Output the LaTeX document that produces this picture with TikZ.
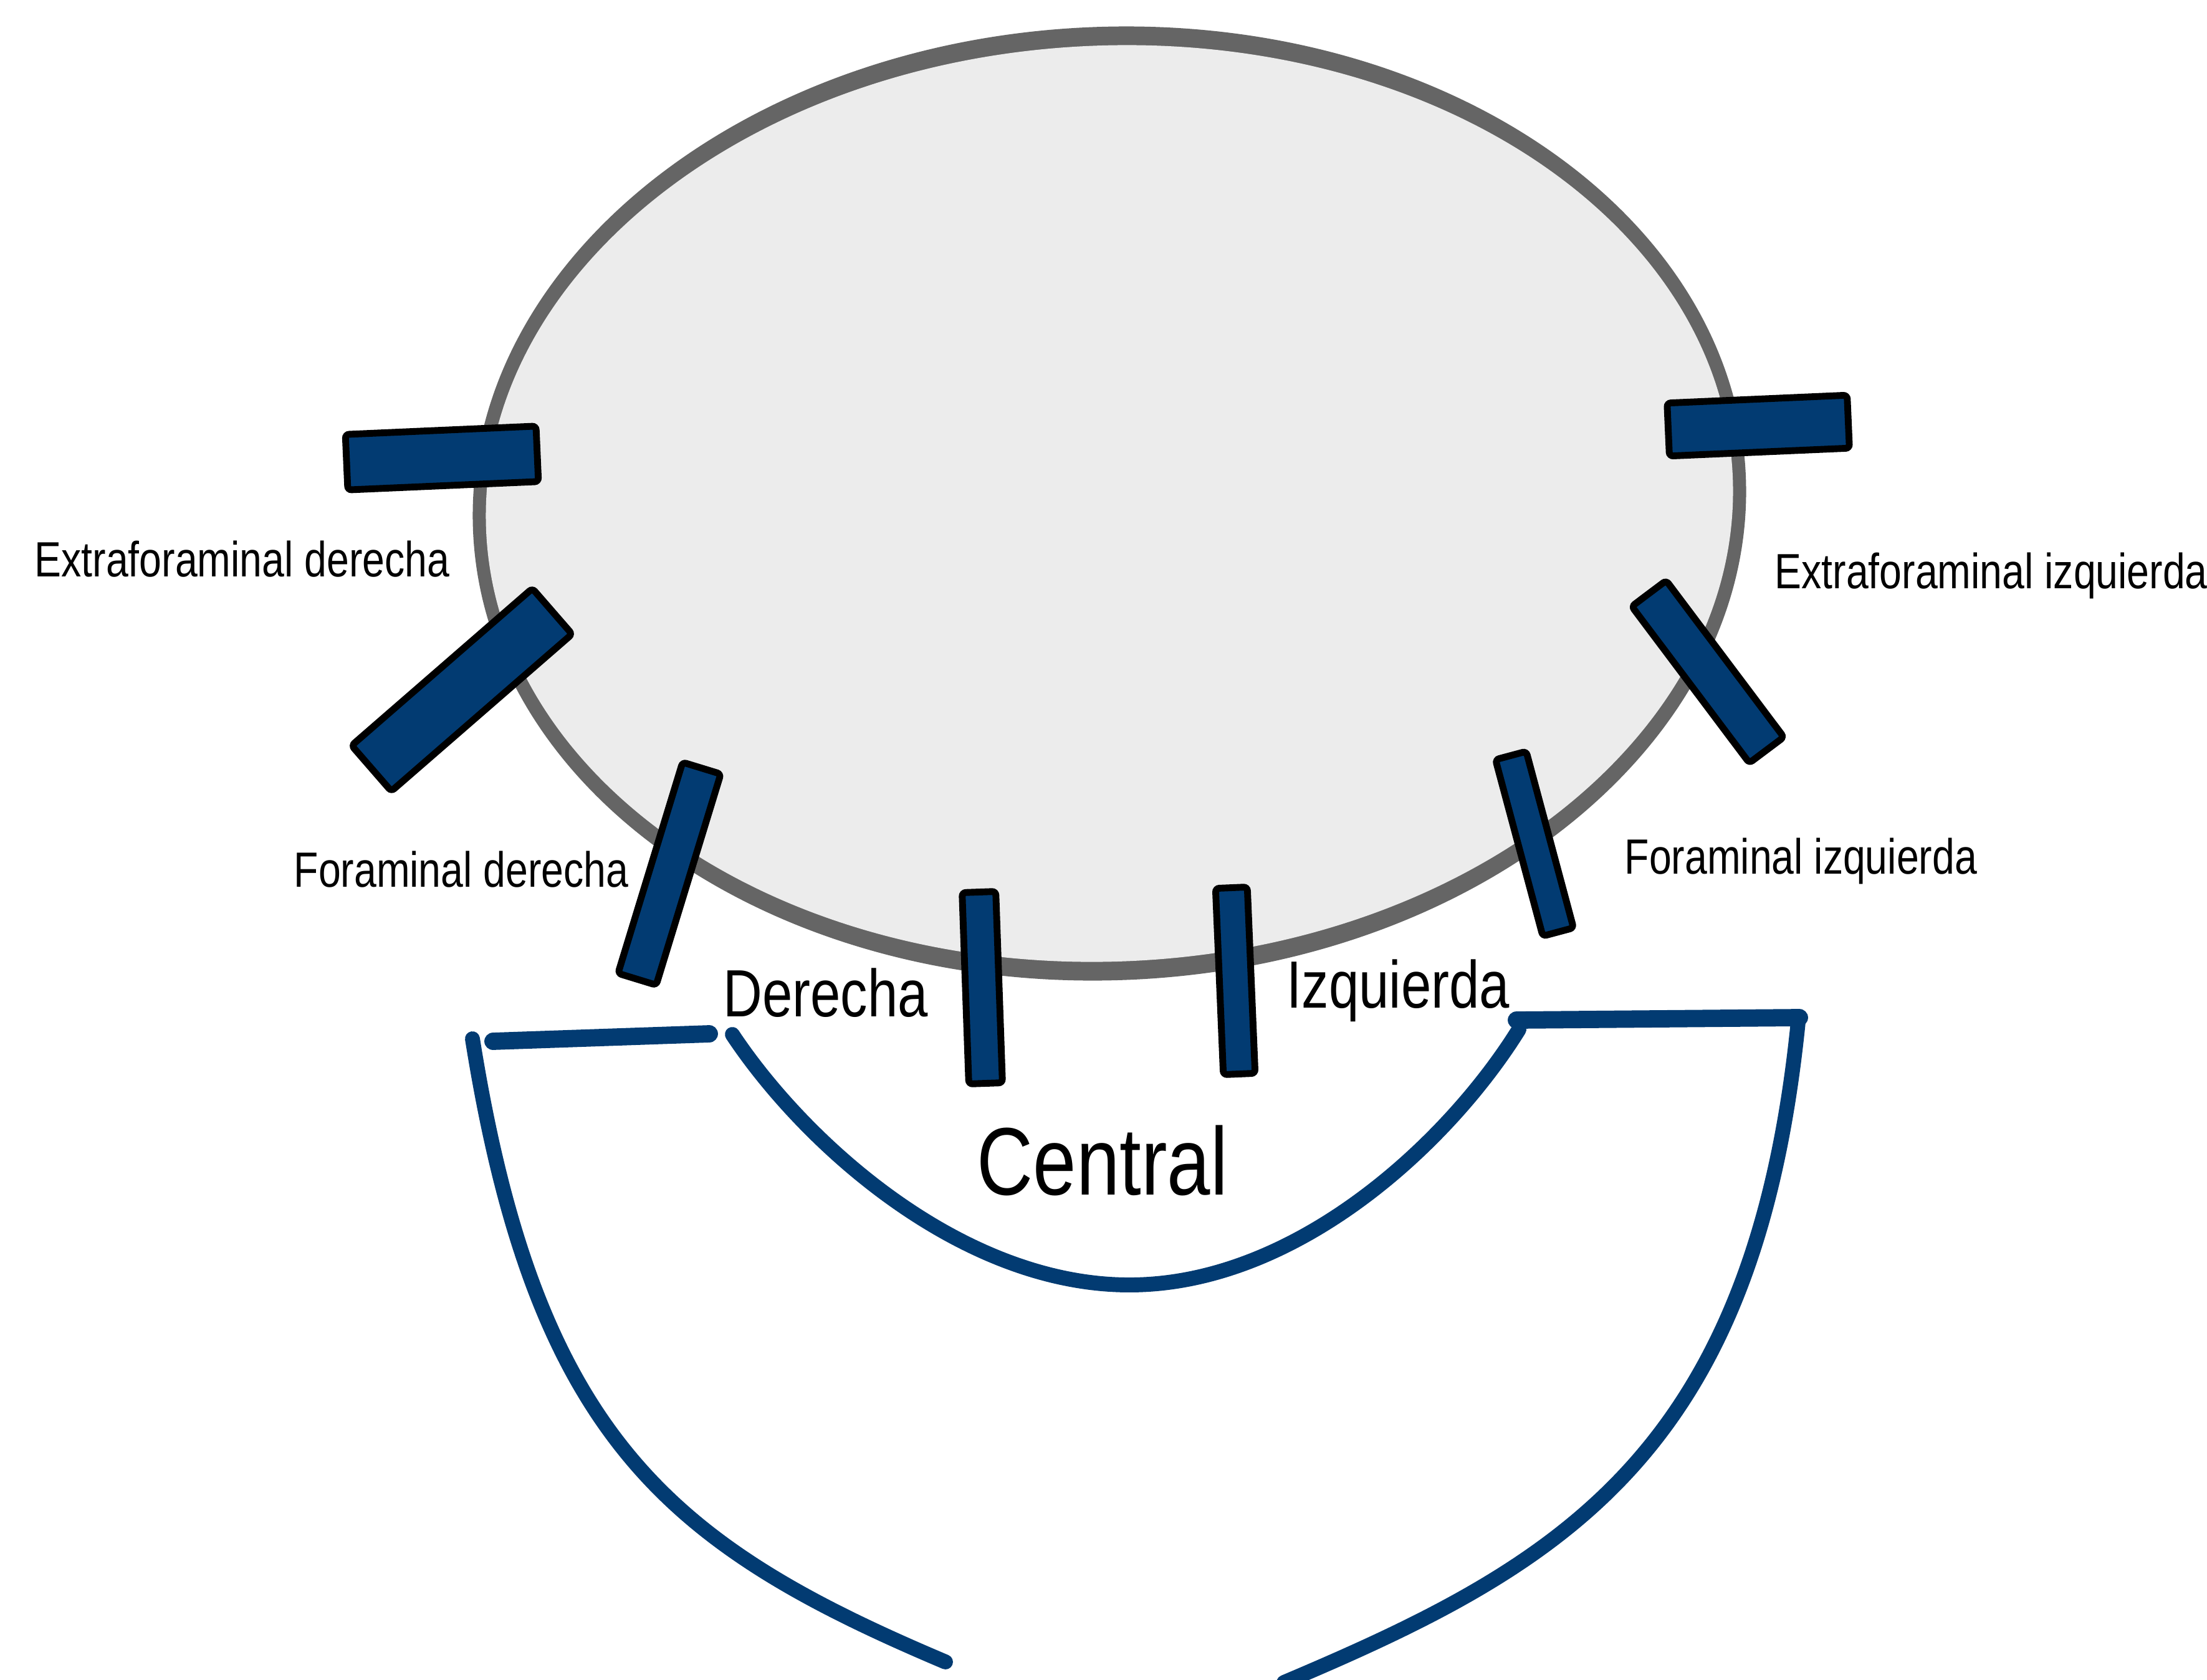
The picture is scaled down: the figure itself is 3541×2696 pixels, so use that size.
\documentclass[tikz,border=0pt]{standalone}
\usepackage{fontspec}
\newfontfamily\labelfont{Liberation Sans}[FakeStretch=0.81]
\definecolor{barblue}{HTML}{023B72}
\definecolor{rim}{HTML}{656565}
\definecolor{disc}{HTML}{ECECEC}

\begin{document}
\begin{tikzpicture}[x=0.01cm, y=-0.01cm,
  bar/.style={draw=black, fill=barblue, line width=3.1pt, rounded corners=0.06cm,
    inner sep=0pt, rectangle},
  curveline/.style={draw=barblue, line width=6.8pt, line cap=round},
  flatline/.style={draw=barblue, line width=7.9pt, line cap=round},
  smalllabel/.style={font=\labelfont\fontsize{22.6pt}{27pt}\selectfont,
    inner sep=0pt, anchor=base west},
  midlabel/.style={font=\labelfont\fontsize{30.5pt}{36pt}\selectfont,
    inner sep=0pt, anchor=base west},
  biglabel/.style={font=\labelfont\fontsize{43.8pt}{52pt}\selectfont,
    inner sep=0pt, anchor=base west}]

% page
\fill[white] (0,0) rectangle (3541,2696);
\useasboundingbox (0,0) rectangle (3541,2696);

% vertebral body: grey rim and light disc
\fill[rim, rotate around={2.5:(1780,808)}] (1780,808) ellipse [x radius=1022, y radius=765];
\fill[disc, rotate around={2.5:(1780,808)}] (1780,808) ellipse [x radius=1001, y radius=735];

% right side bars
\node[bar, minimum width=3.06cm, minimum height=0.89cm, rotate=2.5]  (barExtD)  at (709,735)   {};
\node[bar, minimum width=3.84cm, minimum height=0.97cm, rotate=41]   (barExtD2) at (741,1107)  {};
\node[bar, minimum width=3.54cm, minimum height=0.64cm, rotate=73]   (barForD)  at (1074,1402) {};
\node[bar, minimum width=3.07cm, minimum height=0.54cm, rotate=92]   (barCenD)  at (1576,1585) {};
% left side bars
\node[bar, minimum width=2.99cm, minimum height=0.51cm, rotate=92.4] (barCenI)  at (1982,1574) {};
\node[bar, minimum width=2.93cm, minimum height=0.51cm, rotate=105]  (barForI)  at (2462,1354) {};
\node[bar, minimum width=3.14cm, minimum height=0.69cm, rotate=126.9](barExtI2) at (2740,1078) {};
\node[bar, minimum width=2.89cm, minimum height=0.85cm, rotate=2.5]  (barExtI)  at (2821,683)  {};

% zone outlines
\coordinate (lsA) at (791,1671);
\coordinate (lsB) at (1138,1659);
\coordinate (loTop) at (758,1667);
\coordinate (loEnd) at (1517,2667);
\coordinate (inA) at (1175,1660);
\coordinate (inM) at (1812,2062);
\coordinate (inB) at (2437,1652);
\coordinate (rsA) at (2433,1637);
\coordinate (rsB) at (2887,1633);
\coordinate (roTop) at (2885,1640);
\coordinate (roEnd) at (2060,2700);

\draw[flatline] (lsA) -- (lsB);
\draw[flatline] (rsA) -- (rsB);
\draw[curveline] (loTop) .. controls (860,2308) and (1075,2480) .. (loEnd);
\draw[curveline] (inA) .. controls (1291,1835) and (1542,2062) .. (inM)
                       .. controls (2082,2062) and (2326,1831) .. (inB);
\draw[curveline] (roTop) .. controls (2815,2337) and (2502,2513) .. (roEnd);

% labels
\node[smalllabel] (lblExtD) at (55,925)   {Extraforaminal derecha};
\node[smalllabel] (lblForD) at (471,1423) {Foraminal derecha};
\node[smalllabel] (lblExtI) at (2847,944) {Extraforaminal izquierda};
\node[smalllabel] (lblForI) at (2606,1402){Foraminal izquierda};
\node[midlabel]   (lblDer)  at (1160,1631){Derecha};
\node[midlabel]   (lblIzq)  at (2064,1617){Izquierda};
\node[biglabel]   (lblCen)  at (1567,1917){Central};
\end{tikzpicture}
\end{document}
